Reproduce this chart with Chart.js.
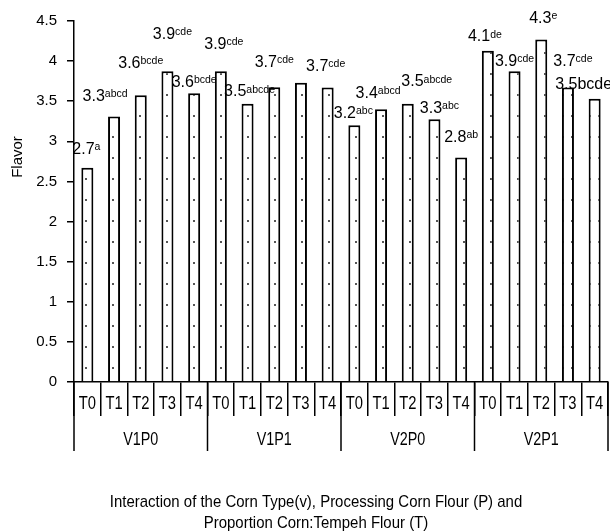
<!DOCTYPE html>
<html>
<head>
<meta charset="utf-8">
<script src="https://cdn.jsdelivr.net/npm/chart.js@4.4.1/dist/chart.umd.min.js"></script>
<style>
  html, body { margin: 0; padding: 0; background: #fff; }
  canvas { display: block; }
</style>
</head>
<body>
<canvas id="chart" width="610" height="532"></canvas>
<script>
// data
const treatments = ['T0', 'T1', 'T2', 'T3', 'T4'];
const groups = ['V1P0', 'V1P1', 'V2P0', 'V2P1'];
const flavor = [2.67, 3.31, 3.575, 3.875, 3.6,
                3.875, 3.47, 3.675, 3.73, 3.67,
                3.2, 3.4, 3.47, 3.275, 2.8,
                4.13, 3.875, 4.27, 3.67, 3.53];
const meanText = ['2.7', '3.3', '3.6', '3.9', '3.6',
                  '3.9', '3.5', '3.7', '', '3.7',
                  '3.2', '3.4', '3.5', '3.3', '2.8',
                  '4.1', '3.9', '4.3', '3.7', '3.5'];
const letters = ['a', 'abcd', 'bcde', 'cde', 'bcde',
                 'cde', 'abcde', 'cde', '', 'cde',
                 'abc', 'abcd', 'abcde', 'abc', 'ab',
                 'de', 'cde', 'e', 'cde', 'bcde'];
const yTicks = [0, 0.5, 1, 1.5, 2, 2.5, 3, 3.5, 4, 4.5];
const titleLines = ['Interaction of the Corn Type(v), Processing Corn Flour (P) and',
                    'Proportion Corn:Tempeh Flour (T)'];

// label nudges (dx, dy above bar top), the labels were placed by hand in the original
const labelNudge = [[-1, 20], [-9, 21], [0, 33], [5, 38], [0, 12],
                    [3, 28], [2, 13], [0, 26], [0, 0], [-2, 22],
                    [-1, 13], [-3, 17], [19, 23], [5, 12], [0, 21],
                    [-3, 15], [0, 11], [2, 22], [5, 27], [-11, 16]];
const inlineLetters = [19]; // this one is not superscripted in the original

const REG = '"Liberation Sans", Arial, sans-serif';

const canvas = document.getElementById('chart');
const ctx = canvas.getContext('2d');

function dotPattern() {
  const p = document.createElement('canvas');
  p.width = 9;
  p.height = 21;
  const g = p.getContext('2d');
  g.fillStyle = '#fff';
  g.fillRect(0, 0, 9, 21);
  g.fillStyle = '#555';
  g.fillRect(4, 10, 2, 2);
  return ctx.createPattern(p, 'repeat');
}

// the original uses a narrow face, squeeze Liberation Sans to get close
function narrowText(c, text, x, y, size, squeeze) {
  c.save();
  c.translate(x, y);
  c.scale(squeeze || 0.82, 1);
  c.font = size + 'px ' + REG;
  c.textAlign = 'center';
  c.textBaseline = 'middle';
  c.fillText(text, 0, 0);
  c.restore();
}

const extras = {
  id: 'extras',
  afterDraw(chart) {
    const c = chart.ctx;
    const x = chart.scales.x;
    const area = chart.chartArea;
    const half = (x.getPixelForValue(1) - x.getPixelForValue(0)) / 2;
    c.save();
    c.fillStyle = '#000';

    // treatment labels
    x.ticks.forEach((t, i) => {
      narrowText(c, chart.data.labels[i], x.getPixelForValue(i), 404, 18);
    });

    // group separators + group names
    c.strokeStyle = '#000';
    c.lineWidth = 1.5;
    for (let g = 0; g <= groups.length; g++) {
      const px = x.getPixelForValue(g * treatments.length) - half;
      c.beginPath();
      c.moveTo(px, area.bottom);
      c.lineTo(px, 451);
      c.stroke();
    }
    groups.forEach((g, i) => {
      const mid = (x.getPixelForValue(i * 5) + x.getPixelForValue(i * 5 + 4)) / 2;
      narrowText(c, g, mid, 440, 17.5);
    });

    // x title
    narrowText(c, titleLines[0], 316, 502, 17, 0.88);
    narrowText(c, titleLines[1], 316, 523, 17, 0.88);

    // y title
    c.save();
    c.translate(18, 157);
    c.rotate(-Math.PI / 2);
    c.font = '15px ' + REG;
    c.textAlign = 'center';
    c.textBaseline = 'middle';
    c.fillText('Flavor', 0, 0);
    c.restore();

    // mean labels with letters
    const meta = chart.getDatasetMeta(0);
    c.textAlign = 'left';
    c.textBaseline = 'alphabetic';
    meta.data.forEach((bar, i) => {
      if (!meanText[i]) return;
      const cx = bar.x + labelNudge[i][0];
      const cy = bar.y - labelNudge[i][1];
      const inline = inlineLetters.includes(i);
      c.font = '16px ' + REG;
      const w1 = c.measureText(meanText[i]).width;
      c.font = (inline ? '16px ' : '10.5px ') + REG;
      const w2 = c.measureText(letters[i]).width;
      const sx = cx - (w1 + w2) / 2;
      c.font = '16px ' + REG;
      c.fillText(meanText[i], sx, cy + 5.75);
      c.font = (inline ? '16px ' : '10.5px ') + REG;
      c.fillText(letters[i], sx + w1, inline ? cy + 5.75 : cy + 1.9);
    });
    c.restore();
  }
};

new Chart(ctx, {
  type: 'bar',
  data: {
    labels: groups.flatMap(() => treatments),
    datasets: [{
      data: flavor,
      backgroundColor: dotPattern(),
      borderColor: '#000',
      borderWidth: 2,
      barPercentage: 0.45,
      categoryPercentage: 1
    }]
  },
  options: {
    responsive: false,
    animation: false,
    layout: { padding: { left: 0, right: 2, top: 21, bottom: 0 } },
    plugins: { legend: { display: false }, tooltip: { enabled: false } },
    scales: {
      x: {
        grid: { drawOnChartArea: false, offset: true, color: '#000', lineWidth: 1.5, tickLength: 34 },
        border: { color: '#000', width: 1.5 },
        ticks: { display: false, autoSkip: false },
        afterFit(s) { s.height = 150; }
      },
      y: {
        min: 0,
        max: 4.5,
        afterBuildTicks(s) { s.ticks = yTicks.map(v => ({ value: v })); },
        ticks: { color: '#000', font: { family: REG, size: 15 }, padding: 10, callback: v => String(v) },
        grid: { drawOnChartArea: false, color: '#000', lineWidth: 1.5, tickLength: 7 },
        border: { color: '#000', width: 1.5 },
        afterFit(s) { s.width = 74; }
      }
    }
  },
  plugins: [extras]
});
</script>
</body>
</html>
